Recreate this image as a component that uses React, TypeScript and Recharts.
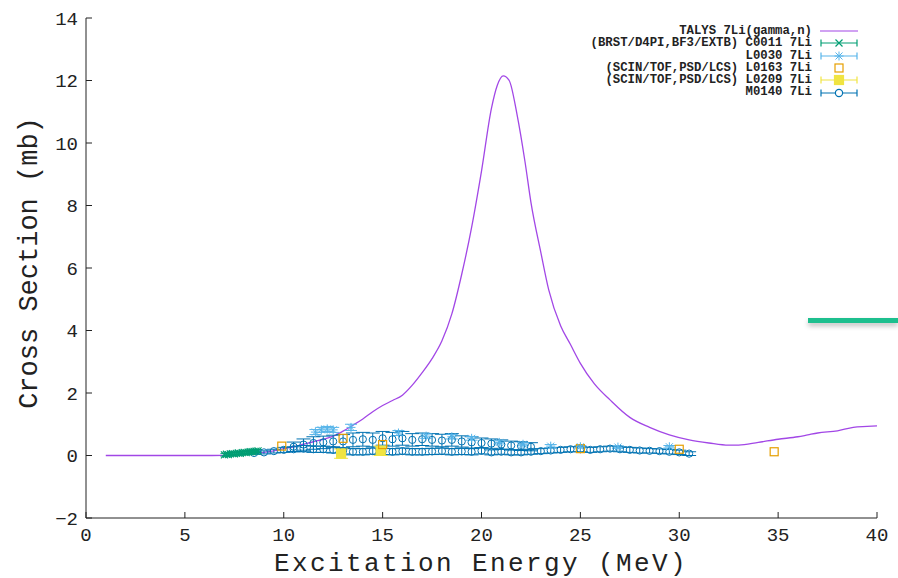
import React from 'react';
import { ComposedChart, Line, Scatter, XAxis, YAxis, ErrorBar, Label, Legend } from 'recharts';

const FONT = '"Liberation Mono", "DejaVu Sans Mono", monospace';

const xTicks = [0, 5, 10, 15, 20, 25, 30, 35, 40];
const yTicks = [-2, 0, 2, 4, 6, 8, 10, 12, 14];

// TALYS 7Li(gamma,n)
const talysEnergy = [1, 2, 3, 4, 5, 6, 7, 7.5, 8, 8.5, 9, 9.5, 10, 10.5, 11, 11.5, 12, 12.5, 13, 13.5, 14, 14.5, 15, 15.5, 16, 16.5, 17, 17.5, 18, 18.5, 19, 19.5, 20, 20.5, 20.8, 21.1, 21.4, 21.8, 22.2, 22.5, 23, 23.4, 24, 24.5, 25, 25.7, 26.5, 27.5, 28.5, 29.5, 30.5, 31.5, 32.5, 33, 34, 35, 36, 36.5, 37, 38, 38.8, 39.5, 40];
const talysXs = [0, 0, 0, 0, 0, 0, 0.005, 0.02, 0.04, 0.07, 0.1, 0.15, 0.22, 0.28, 0.36, 0.44, 0.52, 0.62, 0.78, 0.97, 1.17, 1.4, 1.6, 1.76, 1.93, 2.25, 2.65, 3.1, 3.67, 4.53, 5.8, 7.3, 9.1, 11.1, 11.85, 12.15, 12.0, 10.9, 9.4, 8.1, 6.5, 5.3, 4.15, 3.55, 2.95, 2.3, 1.78, 1.22, 0.9, 0.66, 0.5, 0.4, 0.33, 0.33, 0.42, 0.52, 0.6, 0.66, 0.72, 0.79, 0.9, 0.93, 0.95];

// C0011 (BRST/D4PI,BF3/EXTB)
const c0011Energy = [7.0, 7.1, 7.2, 7.3, 7.4, 7.5, 7.6, 7.7, 7.8, 7.9, 8.0, 8.1, 8.2, 8.3, 8.4, 8.5, 8.6, 8.7];
const c0011Xs = [0.02, 0.04, 0.03, 0.05, 0.06, 0.05, 0.07, 0.08, 0.07, 0.09, 0.1, 0.09, 0.11, 0.12, 0.12, 0.13, 0.14, 0.15];
const c0011Err = [0.04, 0.04, 0.04, 0.04, 0.04, 0.04, 0.04, 0.04, 0.04, 0.04, 0.04, 0.04, 0.04, 0.04, 0.04, 0.04, 0.04, 0.04];

// L0030
const l0030Energy = [11.6, 11.9, 12.2, 12.5, 13.4, 15.8, 17.2, 18.5, 19.5, 20.9, 22.1, 23.5, 25.0, 26.9, 29.5];
const l0030Xs = [0.75, 0.82, 0.85, 0.82, 0.9, 0.72, 0.62, 0.6, 0.55, 0.42, 0.36, 0.3, 0.28, 0.27, 0.28];
const l0030Err = [0.08, 0.08, 0.08, 0.08, 0.1, 0.08, 0.07, 0.07, 0.06, 0.05, 0.05, 0.05, 0.04, 0.04, 0.04];

// L0163 (SCIN/TOF,PSD/LCS)
const l0163Energy = [9.9, 13.0, 15.0, 25.0, 30.0, 34.8];
const l0163Xs = [0.3, 0.55, 0.35, 0.22, 0.2, 0.12];

// L0209 (SCIN/TOF,PSD/LCS)
const l0209Energy = [12.9, 14.9];
const l0209Xs = [0.06, 0.15];
const l0209Err = [0.15, 0.15];

// M0140 (two groups)
const m0140HighEnergy = [10.5, 11, 11.5, 12, 12.5, 13, 13.5, 14, 14.5, 15, 15.5, 16, 16.5, 17, 17.5, 18, 18.5, 19, 19.5, 20, 20.5, 21, 21.5, 22, 22.5];
const m0140HighXs = [0.28, 0.35, 0.4, 0.42, 0.45, 0.45, 0.5, 0.52, 0.5, 0.55, 0.52, 0.55, 0.5, 0.52, 0.5, 0.48, 0.5, 0.45, 0.42, 0.4, 0.38, 0.35, 0.32, 0.3, 0.28];
const m0140HighErr = [0.15, 0.18, 0.2, 0.2, 0.2, 0.22, 0.22, 0.22, 0.22, 0.22, 0.22, 0.22, 0.2, 0.2, 0.2, 0.2, 0.2, 0.18, 0.18, 0.16, 0.15, 0.15, 0.14, 0.14, 0.13];
const m0140LowEnergy = [8.5, 9, 9.5, 10, 10.5, 11, 11.5, 12, 12.5, 13, 13.5, 14, 14.5, 15, 15.5, 16, 16.5, 17, 17.5, 18, 18.5, 19, 19.5, 20, 20.5, 21, 21.5, 22, 22.5, 23, 23.5, 24, 24.5, 25, 25.5, 26, 26.5, 27, 27.5, 28, 28.5, 29, 29.5, 30, 30.5];
const m0140LowXs = [0.08, 0.1, 0.14, 0.18, 0.2, 0.22, 0.2, 0.2, 0.18, 0.15, 0.12, 0.12, 0.14, 0.13, 0.12, 0.14, 0.12, 0.12, 0.13, 0.14, 0.12, 0.13, 0.12, 0.15, 0.1, 0.12, 0.1, 0.1, 0.12, 0.14, 0.16, 0.18, 0.2, 0.2, 0.18, 0.2, 0.22, 0.2, 0.18, 0.16, 0.15, 0.14, 0.12, 0.1, 0.06];
const m0140LowErr = [0.04, 0.05, 0.06, 0.08, 0.08, 0.1, 0.1, 0.1, 0.1, 0.1, 0.1, 0.1, 0.1, 0.1, 0.1, 0.1, 0.1, 0.1, 0.1, 0.1, 0.1, 0.1, 0.1, 0.1, 0.08, 0.08, 0.08, 0.08, 0.08, 0.08, 0.08, 0.08, 0.08, 0.08, 0.08, 0.08, 0.08, 0.08, 0.08, 0.08, 0.07, 0.07, 0.07, 0.07, 0.06];

const COLORS = {
    talys: '#a247e6',
    c0011: '#009e73',
    l0030: '#56b4e9',
    l0163: '#e69f00',
    l0209: '#f0e442',
    m0140: '#0072b2',
};

const toPoints = (xs: number[], ys: number[], es?: number[]) =>
    xs.map((x, i) => ({ x, y: ys[i], e: es ? es[i] : 0 }));

const talysData = toPoints(talysEnergy, talysXs);
const c0011Data = toPoints(c0011Energy, c0011Xs, c0011Err);
const l0030Data = toPoints(l0030Energy, l0030Xs, l0030Err);
const l0163Data = toPoints(l0163Energy, l0163Xs);
const l0209Data = toPoints(l0209Energy, l0209Xs, l0209Err);
const m0140Data = [
    ...toPoints(m0140HighEnergy, m0140HighXs, m0140HighErr),
    ...toPoints(m0140LowEnergy, m0140LowXs, m0140LowErr),
];

// point shapes, gnuplot-ish
const crossShape = (color: string) => (p: any) => {
    const { cx, cy } = p;
    const s = 3.5;
    return <path d={`M${cx - s},${cy - s}L${cx + s},${cy + s}M${cx - s},${cy + s}L${cx + s},${cy - s}`} stroke={color} strokeWidth={1.2} fill="none" />;
};
const starShape = (color: string) => (p: any) => {
    const { cx, cy } = p;
    const s = 3.5;
    return <path d={`M${cx - s},${cy - s}L${cx + s},${cy + s}M${cx - s},${cy + s}L${cx + s},${cy - s}M${cx},${cy - s - 1}L${cx},${cy + s + 1}M${cx - s - 1},${cy}L${cx + s + 1},${cy}`} stroke={color} strokeWidth={1} fill="none" />;
};
const boxShape = (color: string, filled: boolean) => (p: any) => {
    const { cx, cy } = p;
    const s = filled ? 4.5 : 4;
    return <rect x={cx - s} y={cy - s} width={2 * s} height={2 * s} stroke={color} strokeWidth={1.2} fill={filled ? color : 'none'} />;
};
const circleShape = (color: string) => (p: any) => {
    const { cx, cy } = p;
    return <circle cx={cx} cy={cy} r={3.6} stroke={color} strokeWidth={1} fill="none" />;
};

const keyRows = [
    { text: 'TALYS 7Li(gamma,n)', color: COLORS.talys, kind: 'line' },
    { text: '(BRST/D4PI,BF3/EXTB) C0011 7Li', color: COLORS.c0011, kind: 'cross' },
    { text: 'L0030 7Li', color: COLORS.l0030, kind: 'star' },
    { text: '(SCIN/TOF,PSD/LCS) L0163 7Li', color: COLORS.l0163, kind: 'openbox' },
    { text: '(SCIN/TOF,PSD/LCS) L0209 7Li', color: COLORS.l0209, kind: 'box' },
    { text: 'M0140 7Li', color: COLORS.m0140, kind: 'circle' },
];

function KeySample({ kind, color }: { kind: string; color: string }) {
    const cx = 19, cy = 6;
    const bars = kind !== 'line' && kind !== 'openbox';
    return (
        <svg width={40} height={12} style={{ display: 'block' }}>
            {kind === 'line' && <line x1={0} x2={38} y1={cy} y2={cy} stroke={color} strokeWidth={1.2} />}
            {bars && (
                <g stroke={color} strokeWidth={1.2}>
                    <line x1={1} x2={37} y1={cy} y2={cy} />
                    <line x1={1} x2={1} y1={cy - 3.5} y2={cy + 3.5} />
                    <line x1={37} x2={37} y1={cy - 3.5} y2={cy + 3.5} />
                </g>
            )}
            {kind === 'cross' && crossShape(color)({ cx, cy })}
            {kind === 'star' && starShape(color)({ cx, cy })}
            {kind === 'openbox' && boxShape(color, false)({ cx, cy })}
            {kind === 'box' && boxShape(color, true)({ cx, cy })}
            {kind === 'circle' && <circle cx={cx} cy={cy} r={3.6} stroke={color} strokeWidth={1.2} fill="#fff" />}
        </svg>
    );
}

function KeyBox() {
    return (
        <div style={{ fontFamily: FONT, fontSize: 12.3, fontWeight: 'bold', color: '#222', lineHeight: '12.3px' }}>
            {keyRows.map((r) => (
                <div key={r.text} style={{ display: 'flex', alignItems: 'center', height: 12.3 }}>
                    <div style={{ width: 242, textAlign: 'right', whiteSpace: 'pre' }}>{r.text}</div>
                    <div style={{ marginLeft: 8 }}>
                        <KeySample kind={r.kind} color={r.color} />
                    </div>
                </div>
            ))}
        </div>
    );
}

const tickStyle = { fontFamily: FONT, fontSize: 19, fill: '#222' };
const fmtMinus = (v: number) => String(v).replace('-', '\u2212');

export default function App() {
    return (
        <div style={{ position: 'absolute', left: 0, top: 0, width: 898, height: 578, background: '#fff' }}>
            <ComposedChart width={898} height={578} margin={{ top: 18, right: 21, bottom: 0, left: 0 }}>
                <XAxis
                    xAxisId="bottom"
                    dataKey="x"
                    type="number"
                    domain={[0, 40]}
                    ticks={xTicks}
                    allowDataOverflow
                    height={60}
                    stroke="#222"
                    tickSize={-6}
                    tickMargin={16}
                    tick={tickStyle}
                >
                    <Label
                        content={() => (
                            <text x={481} y={571} textAnchor="middle" fontFamily={FONT} fontSize={26} letterSpacing={2.4} fill="#222">
                                Excitation Energy (MeV)
                            </text>
                        )}
                    />
                </XAxis>
                <XAxis xAxisId="top" orientation="top" type="number" domain={[0, 40]} ticks={xTicks} height={0} stroke="#222" tickSize={-6} tick={false} />
                <YAxis
                    yAxisId="left"
                    dataKey="y"
                    type="number"
                    domain={[-2, 14]}
                    ticks={yTicks}
                    allowDataOverflow
                    width={86}
                    stroke="#222"
                    tickSize={-6}
                    tickMargin={14}
                    tick={tickStyle}
                    tickFormatter={fmtMinus}
                >
                    <Label
                        content={() => (
                            <text x={37} y={263} transform="rotate(-90, 37, 263)" textAnchor="middle" fontFamily={FONT} fontSize={27} fill="#222">
                                Cross Section (mb)
                            </text>
                        )}
                    />
                </YAxis>
                <YAxis yAxisId="right" orientation="right" type="number" domain={[-2, 14]} ticks={yTicks} width={0} stroke="#222" tickSize={-6} tick={false} />

                <Legend
                    layout="horizontal"
                    verticalAlign="middle"
                    align="center"
                    wrapperStyle={{ position: 'absolute', left: 570, top: 25, width: 300, height: 76 }}
                    content={() => <KeyBox />}
                />

                <Line
                    xAxisId="bottom"
                    yAxisId="left"
                    data={talysData}
                    dataKey="y"
                    type="monotone"
                    stroke={COLORS.talys}
                    strokeWidth={1.3}
                    dot={false}
                    isAnimationActive={false}
                    name="TALYS 7Li(gamma,n)"
                />
                <Scatter xAxisId="bottom" yAxisId="left" data={m0140Data} dataKey="y" shape={circleShape(COLORS.m0140)} isAnimationActive={false} name="M0140 7Li">
                    <ErrorBar dataKey="e" direction="y" width={7} stroke={COLORS.m0140} strokeWidth={1} />
                </Scatter>
                <Scatter xAxisId="bottom" yAxisId="left" data={l0209Data} dataKey="y" shape={boxShape(COLORS.l0209, true)} isAnimationActive={false} name="L0209 7Li">
                    <ErrorBar dataKey="e" direction="y" width={7} stroke={COLORS.l0209} strokeWidth={1} />
                </Scatter>
                <Scatter xAxisId="bottom" yAxisId="left" data={l0163Data} dataKey="y" shape={boxShape(COLORS.l0163, false)} isAnimationActive={false} name="L0163 7Li" />
                <Scatter xAxisId="bottom" yAxisId="left" data={l0030Data} dataKey="y" shape={starShape(COLORS.l0030)} isAnimationActive={false} name="L0030 7Li">
                    <ErrorBar dataKey="e" direction="y" width={6} stroke={COLORS.l0030} strokeWidth={1} />
                </Scatter>
                <Scatter xAxisId="bottom" yAxisId="left" data={c0011Data} dataKey="y" shape={crossShape(COLORS.c0011)} isAnimationActive={false} name="C0011 7Li">
                    <ErrorBar dataKey="e" direction="y" width={4} stroke={COLORS.c0011} strokeWidth={1} />
                </Scatter>
            </ComposedChart>
            <div
                style={{
                    position: 'absolute',
                    left: 808,
                    top: 318,
                    width: 90,
                    height: 5,
                    background: '#1dbf8e',
                    boxShadow: '0 3px 5px rgba(0,0,0,0.25)',
                }}
            />
        </div>
    );
}
